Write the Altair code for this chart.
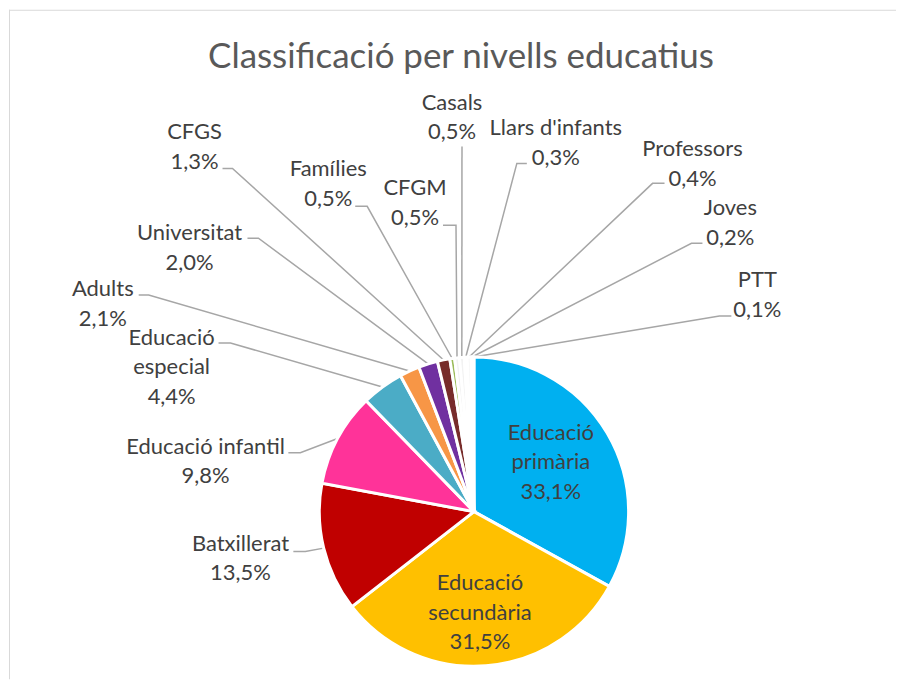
import math
import altair as alt
import pandas as pd

# ---------------- data ----------------
categories = [
    "Educació primària", "Educació secundària", "Batxillerat", "Educació infantil",
    "Educació especial", "Adults", "Universitat", "CFGS", "Famílies", "CFGM",
    "Casals", "Llars d'infants", "Professors", "Joves", "PTT",
]
values = [33.1, 31.5, 13.5, 9.8, 4.4, 2.1, 2.0, 1.3, 0.5, 0.5, 0.5, 0.3, 0.4, 0.2, 0.1]
name_lines = [
    ["Educació", "primària"], ["Educació", "secundària"], ["Batxillerat"], ["Educació infantil"],
    ["Educació", "especial"], ["Adults"], ["Universitat"], ["CFGS"], ["Famílies"], ["CFGM"],
    ["Casals"], ["Llars d'infants"], ["Professors"], ["Joves"], ["PTT"],
]
colors = [
    "#00B0F0", "#FFC000", "#C00000", "#FF3399", "#4BACC6", "#F79646", "#7030A0",
    "#772C2A", "#9BBB59", "#F2F2F2", "#F2F2F2", "#EDEDED", "#F2F2F2", "#F2F2F2", "#F2F2F2",
]
title_text = "Classificació per nivells educatius"

# ---------------- layout (page pixels; pie centre at CX0, CY0) ----------------
W, H = 889, 671
CX0, CY0 = 474, 511          # pie centre on the page
R = 155                       # pie radius
LINE_H = 29.5
label_pos = {
    "Educació primària": (551, 432), "Educació secundària": (480, 583),
    "Batxillerat": (240, 543), "Educació infantil": (205, 446),
    "Educació especial": (171, 337), "Adults": (102, 288), "Universitat": (189, 232),
    "CFGS": (194, 131), "Famílies": (328, 168), "CFGM": (415, 187), "Casals": (452, 101),
    "Llars d'infants": (556, 127), "Professors": (693, 148), "Joves": (731, 207),
    "PTT": (758, 279),
}
leader_elbows = {
    "Batxillerat": [(293, 551), (305, 551)], "Educació infantil": [(288, 452), (300, 452)],
    "Educació especial": [(218, 342), (230, 342)], "Adults": [(138, 294), (148, 294)],
    "Universitat": [(247, 237), (258, 237)], "CFGS": [(222, 167), (232, 167)],
    "Famílies": [(355, 205), (367, 205)], "CFGM": [(443, 224), (456, 224)],
    "Casals": [(462, 145)], "Llars d'infants": [(527, 162), (517, 162)],
    "Professors": [(665, 182), (653, 182)], "Joves": [(703, 242), (692, 242)],
    "PTT": [(732, 315), (720, 315)],
}
title_pos = (461, 55)

# ---------------- derived tables ----------------
total = sum(values)
pie_df = pd.DataFrame({
    "cat": categories, "value": values, "ord": list(range(len(values))),
    "cx": [0] * len(values), "cy": [0] * len(values),
})

mid_angle = {}
cum = 0.0
for c, v in zip(categories, values):
    mid_angle[c] = 2 * math.pi * (cum + v / 2) / total
    cum += v

line_rows = []
for c, pts in leader_elbows.items():
    k = 0
    for (px, py) in pts:
        line_rows.append({"cat": c, "ord": k, "lx": px - CX0, "ly": py - CY0})
        k += 1
    a = mid_angle[c]
    line_rows.append({"cat": c, "ord": k, "lx": R * math.sin(a), "ly": -R * math.cos(a)})
lines_df = pd.DataFrame(line_rows)


def pct(v):
    return f"{v:.1f}".replace(".", ",") + "%"


text_rows = []
for c, v, nl in zip(categories, values, name_lines):
    px, py = label_pos[c]
    for i, t in enumerate(nl + [pct(v)]):
        text_rows.append({"text": t, "tx": px - CX0, "ty": py - CY0 + i * LINE_H})
text_df = pd.DataFrame(text_rows)
title_df = pd.DataFrame({"text": [title_text], "tx": [title_pos[0] - CX0], "ty": [title_pos[1] - CY0]})

# ---------------- chart ----------------
xs = alt.Scale(domain=[8 - CX0, 8 + W - CX0], nice=False, zero=False)
ys = alt.Scale(domain=[8 - CY0, 8 + H - CY0], nice=False, zero=False, reverse=True)

leaders = alt.Chart(lines_df).mark_line(color="#A6A6A6", strokeWidth=1.5).encode(
    x=alt.X("lx:Q", scale=xs, axis=None),
    y=alt.Y("ly:Q", scale=ys, axis=None),
    detail="cat:N",
    order="ord:Q",
)

pie = alt.Chart(pie_df).mark_arc(radius=R, stroke="white", strokeWidth=3).encode(
    x=alt.X("cx:Q", scale=xs, axis=None),
    y=alt.Y("cy:Q", scale=ys, axis=None),
    theta=alt.Theta("value:Q", stack=True),
    color=alt.Color("cat:N", scale=alt.Scale(domain=categories, range=colors), legend=None),
    order=alt.Order("ord:Q"),
)

labels = alt.Chart(text_df).mark_text(
    font="Lato", fontSize=22, color="#404040", baseline="middle", align="center"
).encode(
    x=alt.X("tx:Q", scale=xs, axis=None),
    y=alt.Y("ty:Q", scale=ys, axis=None),
    text="text:N",
)

title = alt.Chart(title_df).mark_text(
    font="Lato", fontSize=35, color="#595959", baseline="middle", align="center"
).encode(
    x=alt.X("tx:Q", scale=xs, axis=None),
    y=alt.Y("ty:Q", scale=ys, axis=None),
    text="text:N",
)

border_top = alt.Chart(pd.DataFrame({"a": [0]})).mark_rule(color="#D9D9D9", strokeWidth=1).encode(
    x=alt.value(0), x2=alt.value(W), y=alt.value(0.5)
)
border_left = alt.Chart(pd.DataFrame({"a": [0]})).mark_rule(color="#D9D9D9", strokeWidth=1).encode(
    x=alt.value(0.5), y=alt.value(0), y2=alt.value(H)
)

chart = alt.layer(border_top, border_left, leaders, pie, labels, title).properties(
    width=W, height=H, padding=0, background="white"
).configure_view(stroke=None)

chart.save("out.html", embed_options={"renderer": "svg", "actions": False})
